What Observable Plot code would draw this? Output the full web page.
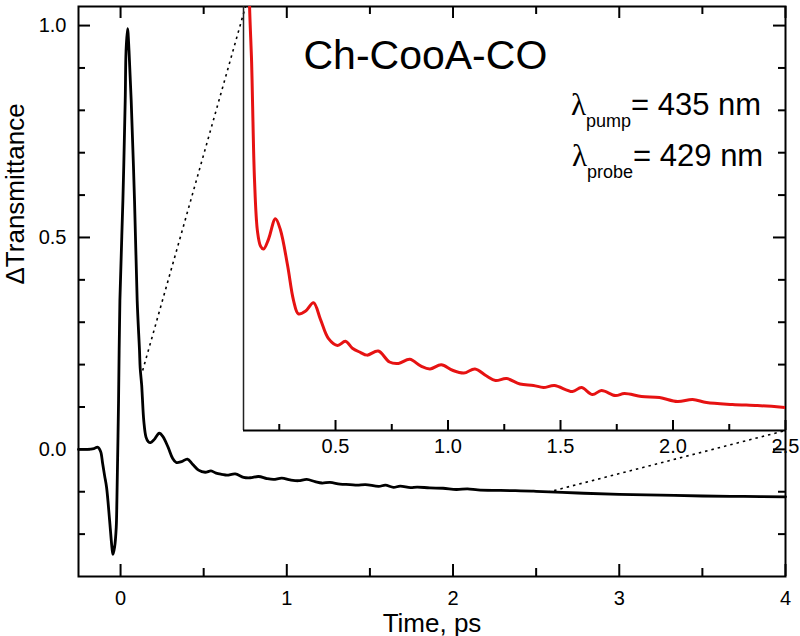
<!DOCTYPE html>
<html><head><meta charset="utf-8">
<script src="https://cdn.jsdelivr.net/npm/d3@7"></script>
<script src="https://cdn.jsdelivr.net/npm/@observablehq/plot@0.6"></script>
<style>
body{margin:0;background:#fff;}
#wrap{position:relative;width:800px;height:636px;font-family:"Liberation Sans",Arial,sans-serif;}
#wrap svg{position:absolute;overflow:visible;}
</style></head><body><div id="wrap"></div>
<script>
// ---- data ----
const time = [-0.253,-0.20,-0.16,-0.137,-0.12,-0.108,-0.096,-0.084,-0.066,-0.052,-0.046,-0.036,-0.026,-0.022,-0.012,-0.004,0.014,0.028,0.033,0.042,0.051,0.064,0.084,0.100,0.114,0.118,0.127,0.131,0.140,0.153,0.167,0.180,0.202,0.233,0.255,0.287,0.313,0.335,0.367,0.402,0.433,0.469,0.509,0.544,0.575,0.61,0.64,0.69,0.74,0.78,0.83,0.88,0.92,0.97,1.02,1.07,1.12,1.17,1.211,1.26,1.32,1.38,1.424,1.473,1.553,1.593,1.642,1.682,1.744,1.784,1.860,1.940,2.020,2.087,2.149,2.264,2.375,2.473,2.50,2.75,3.0,3.25,3.5,3.75,4.0];
const value = [0.000,0.000,0.002,0.005,-0.005,-0.033,-0.062,-0.090,-0.167,-0.231,-0.248,-0.231,-0.184,-0.120,0.116,0.351,0.587,0.823,0.940,0.993,0.940,0.823,0.587,0.351,0.233,0.192,0.152,0.124,0.066,0.029,0.018,0.016,0.023,0.038,0.030,0.004,-0.021,-0.031,-0.029,-0.023,-0.035,-0.049,-0.054,-0.051,-0.056,-0.059,-0.061,-0.058,-0.066,-0.067,-0.064,-0.069,-0.071,-0.068,-0.072,-0.074,-0.071,-0.076,-0.0794,-0.078,-0.082,-0.083,-0.0845,-0.0831,-0.0874,-0.0845,-0.0896,-0.0867,-0.0903,-0.0889,-0.0910,-0.0918,-0.0947,-0.0932,-0.0954,-0.0968,-0.0976,-0.0986,-0.0990,-0.103,-0.106,-0.108,-0.110,-0.111,-0.112];
const xTicksMajor = [0,1,2,3,4];
const xTicksMinor = [0.5,1.5,2.5,3.5];
const yTicksMajor = [0,0.5,1.0];
const yTicksMinor = [-0.2,-0.1,0.1,0.2,0.3,0.4,0.6,0.7,0.8,0.9];
const insetTicksMajor = [0.5,1.0,1.5,2.0,2.5];
const insetTicksMinor = [0.25,0.75,1.25,1.75,2.25];
const connectorTime = [0.133, 2.57];
const connectorValue = [0.186, -0.101];
const titleText = "Ch-CooA-CO";
const xLabel = "Time, ps";
const yLabel = "\u0394Transmittance";
const lambdaLines = [{sub:"pump", rest:"= 435 nm"},{sub:"probe", rest:"= 429 nm"}];

// ---- layout ----
const FONT = '"Liberation Sans", Arial, Helvetica, sans-serif';
const W=800, H=636, mL=78, mR=15, mT=6, mB=60;
const fh = H-mT-mB, fw = W-mL-mR;
const xDomain=[-0.253,4], yDomain=[-0.3,1.045];
const iL=243, iR=785, iT=6, iB=430;
const insetX=[0.091,2.5], insetY=[-0.1157,0.192];
const ih = iB-iT;

const data = time.map((t,i)=>({t, v:value[i]}));
const xs = d3.scaleLinear(xDomain,[mL,W-mR]);
const ys = d3.scaleLinear(yDomain,[H-mB,mT]);
const connectors = [
  {x1:connectorTime[0], y1:connectorValue[0], x2:xs.invert(iL+2), y2:yDomain[1]},
  {x1:connectorTime[1], y1:connectorValue[1], x2:xs.invert(iR), y2:ys.invert(iB)}
];

const main = Plot.plot({
  width:W, height:H, marginLeft:mL, marginRight:mR, marginTop:mT, marginBottom:mB,
  style:{fontFamily:FONT, background:"transparent", color:"black"},
  x:{domain:xDomain, axis:null}, y:{domain:yDomain, axis:null},
  marks:[
    Plot.tickX(xTicksMajor,{x:d=>d, insetTop:fh-12, stroke:"black", strokeWidth:2}),
    Plot.tickX(xTicksMinor,{x:d=>d, insetTop:fh-8, stroke:"black", strokeWidth:2}),
    Plot.tickX(xTicksMajor,{x:d=>d, insetBottom:fh-12, stroke:"black", strokeWidth:2}),
    Plot.tickX(xTicksMinor,{x:d=>d, insetBottom:fh-8, stroke:"black", strokeWidth:2}),
    Plot.tickY(yTicksMajor,{y:d=>d, insetRight:fw-12, stroke:"black", strokeWidth:2}),
    Plot.tickY(yTicksMinor,{y:d=>d, insetRight:fw-7, stroke:"black", strokeWidth:2}),
    Plot.tickY(yTicksMajor,{y:d=>d, insetLeft:fw-12, stroke:"black", strokeWidth:2}),
    Plot.tickY(yTicksMinor,{y:d=>d, insetLeft:fw-7, stroke:"black", strokeWidth:2}),
    Plot.axisX(xTicksMajor,{tickSize:0, tickPadding:14, fontSize:20, tickFormat:d=>String(d), label:null}),
    Plot.axisY(yTicksMajor,{tickSize:0, tickPadding:12, fontSize:20, tickFormat:d3.format(".1f"), label:null}),
    Plot.link(connectors,{x1:"x1",y1:"y1",x2:"x2",y2:"y2", stroke:"black", strokeWidth:1.6, strokeDasharray:"2.5,4"}),
    Plot.line(data,{x:"t", y:"v", stroke:"black", strokeWidth:2.8, curve:"catmull-rom"}),
    Plot.frame({stroke:"black", strokeWidth:2}),
    Plot.text([xLabel],{frameAnchor:"bottom", dy:55, lineAnchor:"bottom", fontSize:26}),
    Plot.text([yLabel],{frameAnchor:"left", dx:-55, dy:-7, rotate:-90, lineAnchor:"bottom", fontSize:26}),
    Plot.text([titleText],{frameAnchor:"top-left", dx:225, dy:62, textAnchor:"start", lineAnchor:"bottom", fontSize:41})
  ]
});
main.style.left="0px"; main.style.top="0px";
document.getElementById("wrap").appendChild(main);

// lambda annotations with subscripts
const svg = d3.select(main);
const lamPos = [{x:571, y:115},{x:572, y:166}];
lambdaLines.forEach((d,i)=>{
  const t = svg.append("text").attr("x",lamPos[i].x).attr("y",lamPos[i].y)
    .attr("text-anchor","start")
    .attr("font-family",FONT).attr("font-size",31).attr("fill","black");
  t.append("tspan").attr("font-family",'"Liberation Serif", "DejaVu Serif", serif').text("\u03bb");
  t.append("tspan").attr("font-size",18).attr("dy",12).text(d.sub);
  t.append("tspan").attr("dy",-12).text(d.rest);
});

const inset = Plot.plot({
  width:(iR-iL)+2+16, height:ih+30, marginLeft:2, marginRight:16, marginTop:0, marginBottom:30,
  style:{fontFamily:FONT, background:"transparent", color:"black"},
  x:{domain:insetX, axis:null}, y:{domain:insetY, axis:null},
  marks:[
    Plot.line(data.filter(d=>d.t>=0.1 && d.t<=2.5),{x:"t", y:"v", stroke:"#e61212", strokeWidth:3, curve:"catmull-rom", clip:true}),
    Plot.ruleX([insetX[0]],{stroke:"#222", strokeWidth:1.5}),
    Plot.ruleY([insetY[0]],{stroke:"black", strokeWidth:2}),
    Plot.tickX(insetTicksMajor,{x:d=>d, insetTop:ih-10, stroke:"black", strokeWidth:2}),
    Plot.tickX(insetTicksMinor,{x:d=>d, insetTop:ih-6, stroke:"black", strokeWidth:2}),
    Plot.axisX(insetTicksMajor,{tickSize:0, tickPadding:8, fontSize:20, tickFormat:d3.format(".1f"), label:null})
  ]
});
inset.style.left=(iL-2)+"px"; inset.style.top=iT+"px";
document.getElementById("wrap").appendChild(inset);
</script></body></html>
